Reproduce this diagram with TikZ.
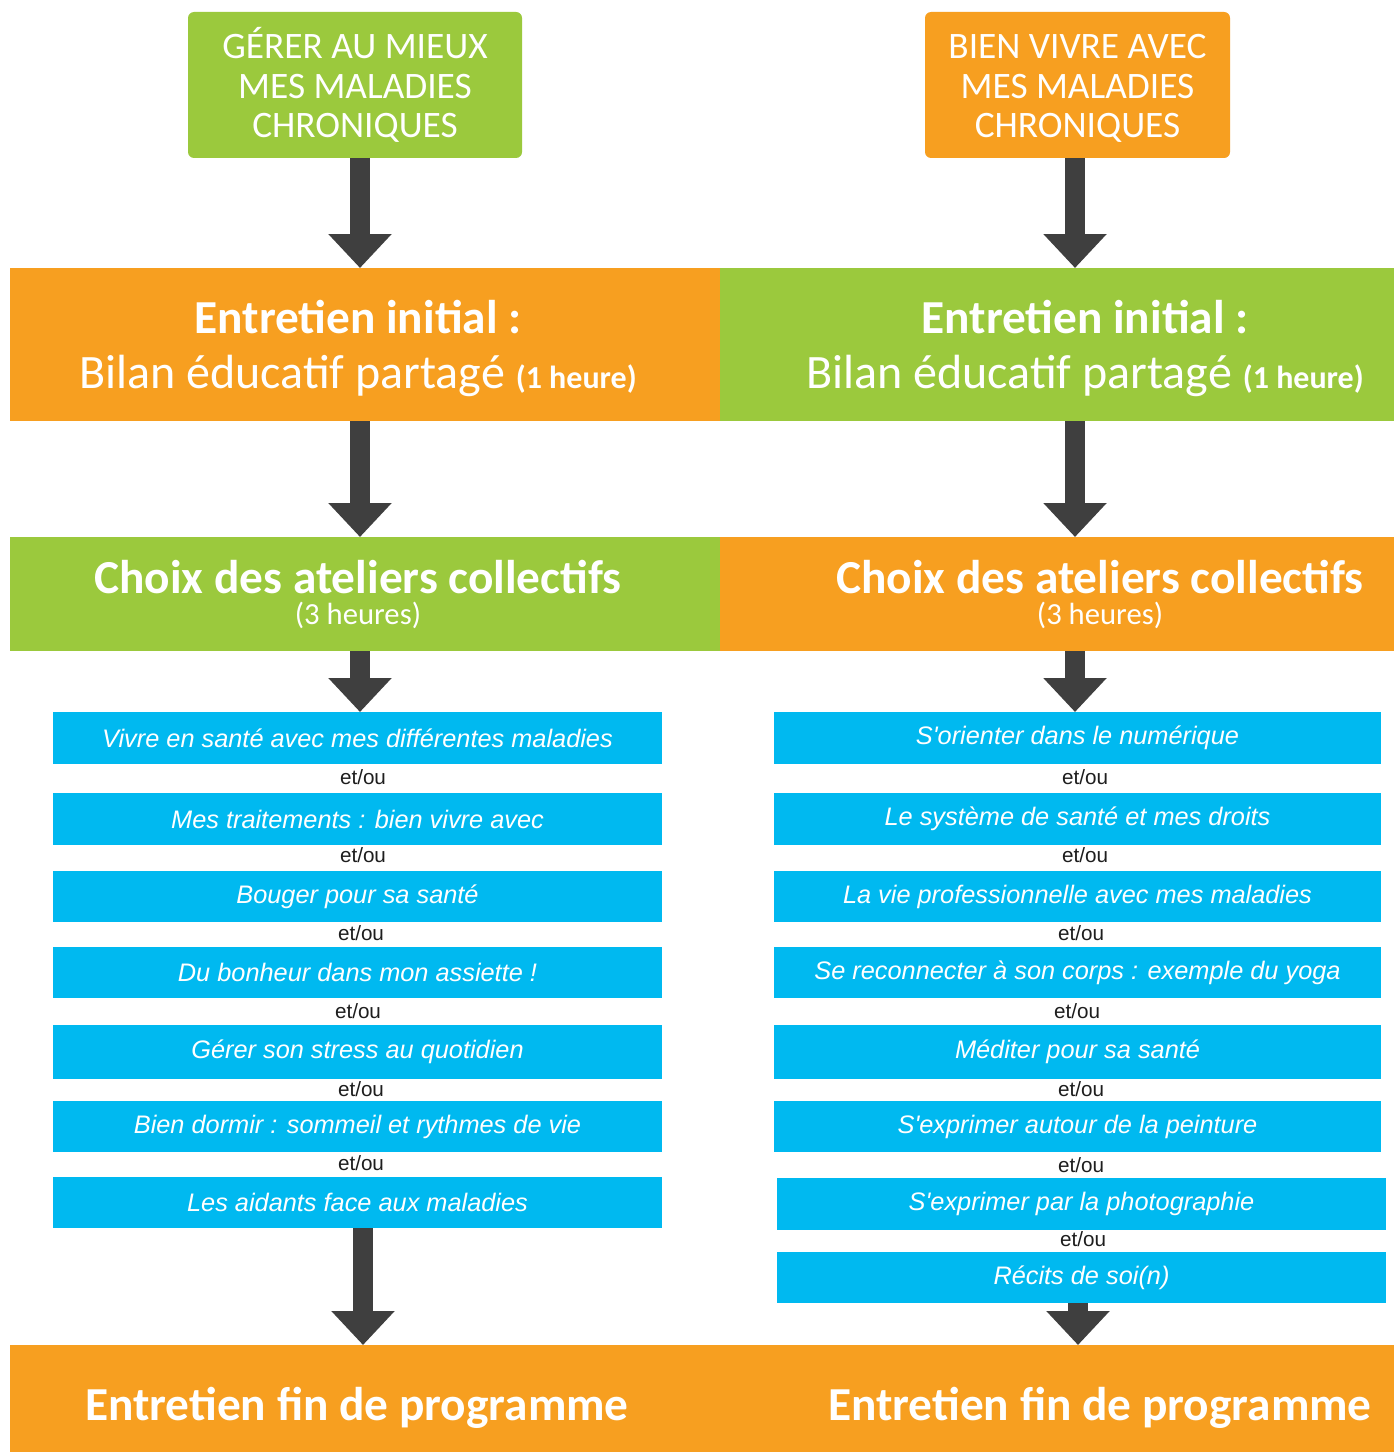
\documentclass[tikz,border=0pt]{standalone}
\usepackage{fontspec}
\setmainfont{Carlito}
\newfontfamily\atelierfont{Liberation Sans}
\usetikzlibrary{arrows.meta,fit}
\definecolor{cgreen}{HTML}{9BC93D}
\definecolor{corange}{HTML}{F79F20}
\definecolor{cblue}{HTML}{00B9F0}
\definecolor{carrow}{HTML}{3F3F3F}
\definecolor{cetou}{HTML}{1E1E1E}
\begin{document}
\begin{tikzpicture}[x=0.75pt,y=-0.75pt,
  rect/.style={inner sep=0pt, outer sep=0pt, draw=none},
  topbox/.style={rect, rounded corners=4.5pt, text=white, align=center,
    minimum height=109.5pt, font=\fontsize{28}{29.5}\selectfont},
  head/.style={inner sep=0pt, anchor=base, text=white, font=\fontsize{35.5}{40}\selectfont\bfseries},
  sub/.style={inner sep=0pt, anchor=base, text=white, font=\fontsize{36}{40}\selectfont},
  choix/.style={inner sep=0pt, text=white, align=center, font=\fontsize{35.5}{23.25}\selectfont\bfseries},
  atelier/.style={rect, fill=cblue, text=white, minimum width=456.75pt,
    font=\atelierfont\itshape\fontsize{19}{20}\selectfont},
  etou/.style={inner sep=0pt, text=cetou, font=\atelierfont\fontsize{15.5}{17}\selectfont},
  bigarrow/.style={draw=carrow, line width=15pt, -{Triangle[width=46pt,length=25.5pt,color=carrow]}},
]
\useasboundingbox (0,0) rectangle (1394,1452);
\fill[white] (0,0) rectangle (1394,1452);

% columns for arrows
\coordinate (xL) at (360,0);
\coordinate (xR) at (1075,0);
\coordinate (xLb) at (363,0);
\coordinate (xRb) at (1078,0);

% top boxes
\node[topbox, fill=cgreen, minimum width=250.5pt] (tl) at (355,85) {G\'ERER AU MIEUX\\MES MALADIES\\CHRONIQUES};
\node[topbox, fill=corange, minimum width=228.75pt] (tr) at (1077.5,85) {\vphantom{\'E}BIEN VIVRE AVEC\\MES MALADIES\\CHRONIQUES};

% band 1
\node[rect, fill=corange, fit={(10,268)(720,421)}] (b1L) {};
\node[rect, fill=cgreen, fit={(720,268)(1394,421)}] (b1R) {};
\node[head] (t1L) at (358,333) {Entretien initial :};
\node[sub] (s1L) at (358,388) {Bilan éducatif partagé {\fontsize{24}{26}\selectfont\bfseries (1 heure)}};
\node[head] (t1R) at (1085,333) {Entretien initial :};
\node[sub] (s1R) at (1085,388) {Bilan éducatif partagé {\fontsize{24}{26}\selectfont\bfseries (1 heure)}};

% band 2
\node[rect, fill=cgreen, fit={(10,537)(720,651)}] (b2L) {};
\node[rect, fill=corange, fit={(720,537)(1394,651)}] (b2R) {};
\node[choix] (t2L) at (358,594) {Choix des ateliers collectifs\\{\fontsize{23}{23.25}\selectfont\mdseries (3 heures)}};
\node[choix] (t2R) at (1100,594) {Choix des ateliers collectifs\\{\fontsize{23}{23.25}\selectfont\mdseries (3 heures)}};

% left ateliers
\node[atelier, minimum height=39pt] (L1) at (357.5,738) {Vivre en santé avec mes différentes maladies};
\node[atelier, minimum height=39pt] (L2) at (357.5,819) {Mes traitements : bien vivre avec};
\node[atelier, minimum height=38.25pt] (L3) at (357.5,896.5) {Bouger pour sa santé};
\node[atelier, minimum height=38.25pt] (L4) at (357.5,972.5) {Du bonheur dans mon assiette !};
\node[atelier, minimum height=40.5pt] (L5) at (357.5,1052) {Gérer son stress au quotidien};
\node[atelier, minimum height=38.25pt] (L6) at (357.5,1126.5) {Bien dormir : sommeil et rythmes de vie};
\node[atelier, minimum height=38.25pt] (L7) at (357.5,1202.5) {Les aidants face aux maladies};
\node[etou] (eL1) at (363,777) {et/ou};
\node[etou] (eL2) at (363,855) {et/ou};
\node[etou] (eL3) at (361,933) {et/ou};
\node[etou] (eL4) at (358,1011) {et/ou};
\node[etou] (eL5) at (361,1089) {et/ou};
\node[etou] (eL6) at (361,1163) {et/ou};

% right ateliers
\node[atelier, minimum width=455.25pt, minimum height=39pt] (R1) at (1077.5,738) {S'orienter dans le numérique};
\node[atelier, minimum width=455.25pt, minimum height=39pt] (R2) at (1077.5,819) {Le système de santé et mes droits};
\node[atelier, minimum width=455.25pt, minimum height=38.25pt] (R3) at (1077.5,896.5) {La vie professionnelle avec mes maladies};
\node[atelier, minimum width=455.25pt, minimum height=38.25pt] (R4) at (1077.5,972.5) {Se reconnecter à son corps : exemple du yoga};
\node[atelier, minimum width=455.25pt, minimum height=40.5pt] (R5) at (1077.5,1052) {Méditer pour sa santé};
\node[atelier, minimum width=455.25pt, minimum height=38.25pt] (R6) at (1077.5,1126.5) {S'exprimer autour de la peinture};
\node[atelier, minimum height=39pt] (R7) at (1081.5,1204) {S'exprimer par la photographie};
\node[atelier, minimum height=38.25pt] (R8) at (1081.5,1277.5) {Récits de soi(n)};
\node[etou] (eR1) at (1085,777) {et/ou};
\node[etou] (eR2) at (1085,855) {et/ou};
\node[etou] (eR3) at (1081,933) {et/ou};
\node[etou] (eR4) at (1077,1011) {et/ou};
\node[etou] (eR5) at (1081,1089) {et/ou};
\node[etou] (eR6) at (1081,1165) {et/ou};
\node[etou] (eR7) at (1083,1239) {et/ou};

% bottom band
\node[rect, fill=corange, fit={(10,1345)(1394,1452)}] (fin) {};
\node[head] (fL) at (357,1420) {Entretien fin de programme};
\node[head] (fR) at (1100,1420) {Entretien fin de programme};

% arrows
\draw[bigarrow] (tl.south -| xL) -- (b1L.north -| xL);
\draw[bigarrow] (tr.south -| xR) -- (b1R.north -| xR);
\draw[bigarrow] (b1L.south -| xL) -- (b2L.north -| xL);
\draw[bigarrow] (b1R.south -| xR) -- (b2R.north -| xR);
\draw[bigarrow] (b2L.south -| xL) -- (L1.north -| xL);
\draw[bigarrow] (b2R.south -| xR) -- (R1.north -| xR);
\draw[bigarrow] (L7.south -| xLb) -- (fin.north -| xLb);
\draw[bigarrow] (R8.south -| xRb) -- (fin.north -| xRb);
\end{tikzpicture}
\end{document}
